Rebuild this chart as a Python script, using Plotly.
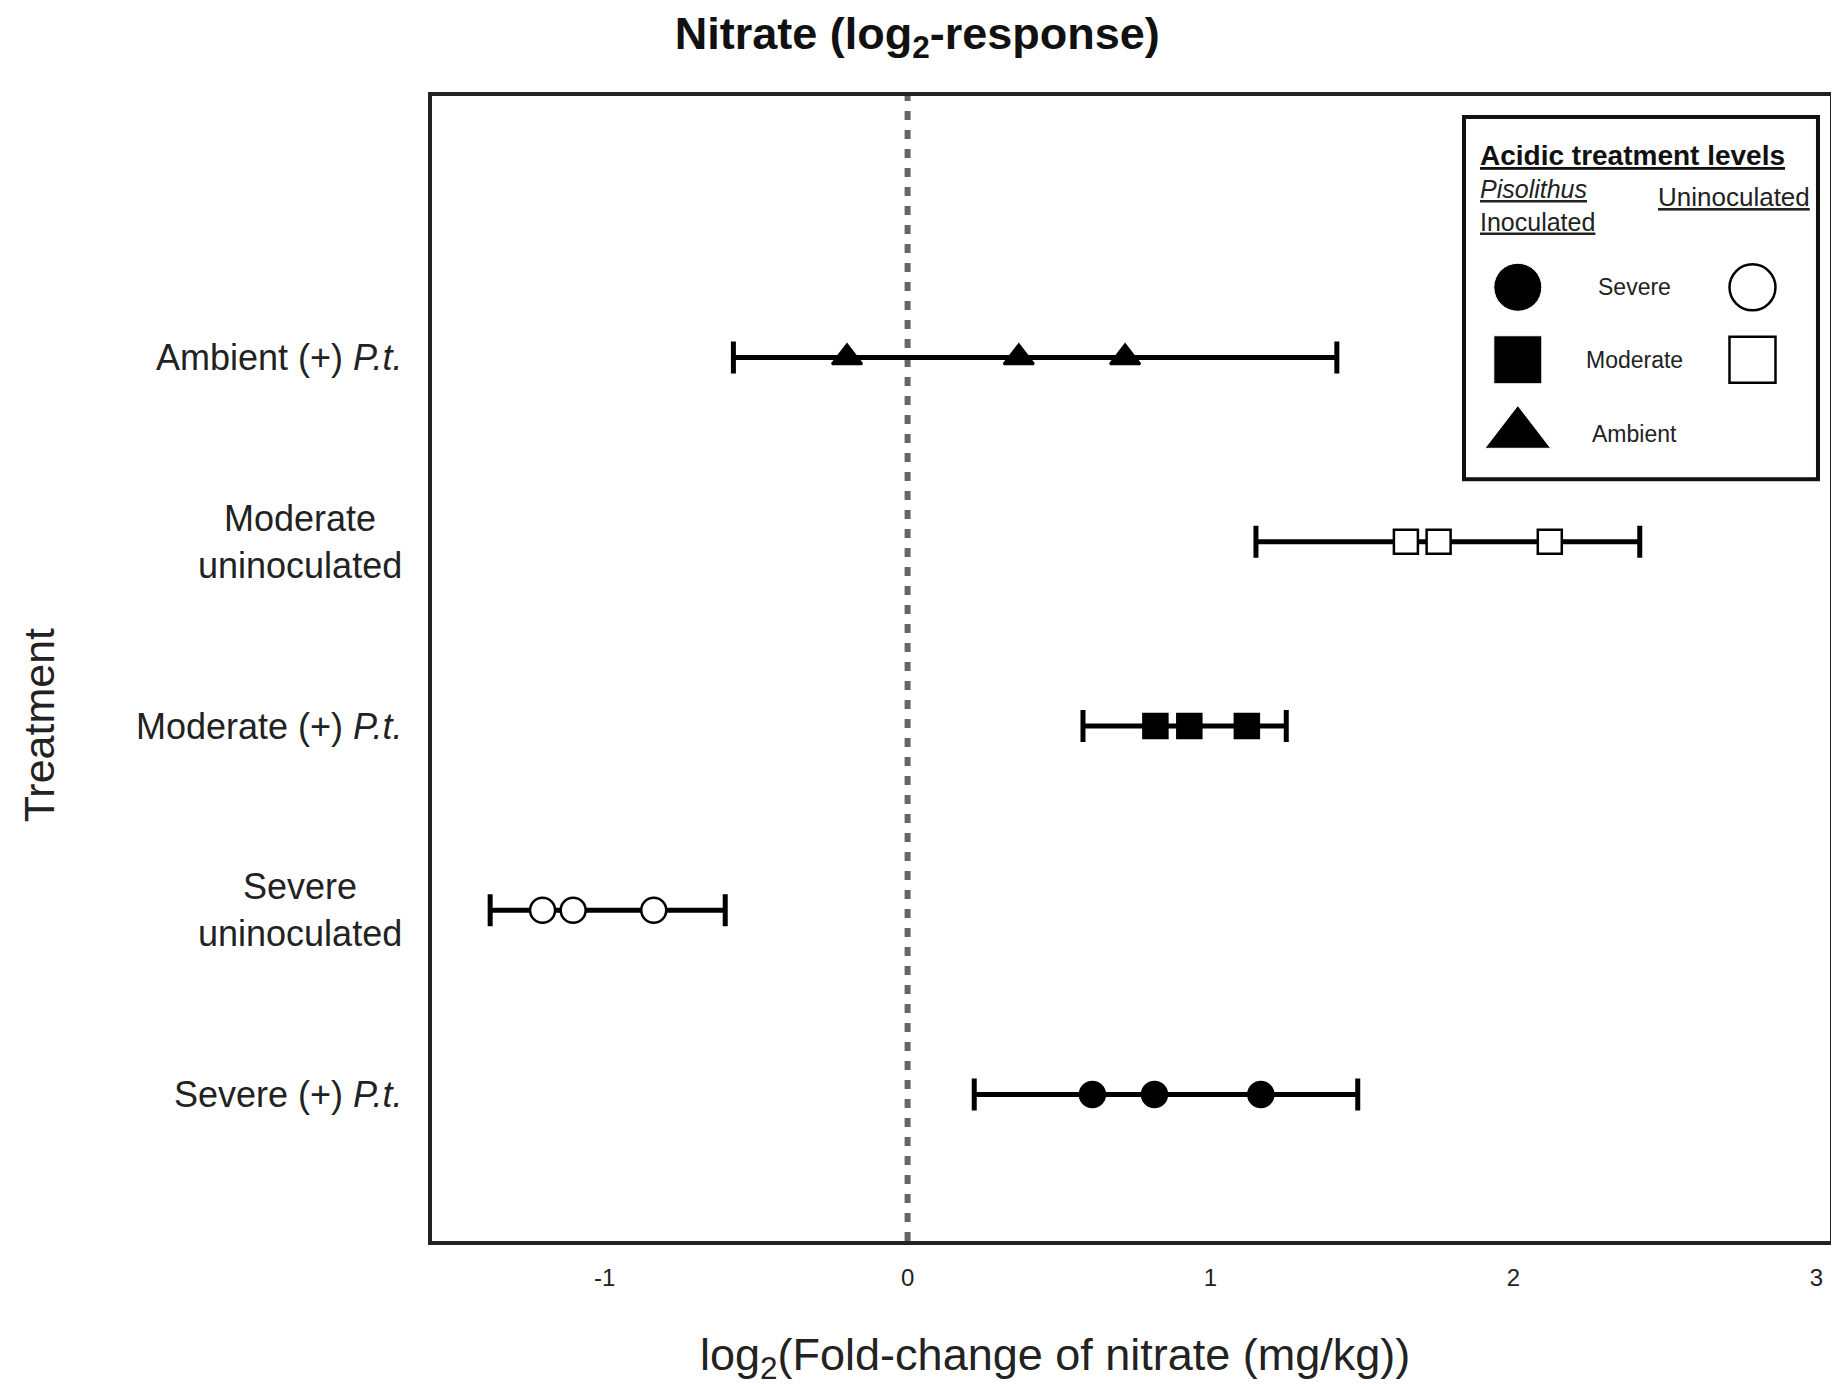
'''
nitrate log2-response forest plot
'''
import plotly.graph_objects as go

# rows from bottom to top
treatments = ['Severe (+) <i>P.t.</i>', 'Severe<br>uninoculated', 'Moderate (+) <i>P.t.</i>',
              'Moderate<br>uninoculated', 'Ambient (+) <i>P.t.</i>']
row_pos = [0, 1, 2, 3, 4]
symbols = ['circle', 'circle-open', 'square', 'square-open', 'triangle-up']
inoculated = [True, False, True, False, True]

ci_low = [0.22, -1.378, 0.579, 1.15, -0.575]
ci_high = [1.486, -0.602, 1.25, 2.417, 1.417]
rep1 = [0.61, -1.205, 0.818, 1.645, -0.20]
rep2 = [0.815, -1.104, 0.93, 1.753, 0.367]
rep3 = [1.166, -0.838, 1.12, 2.12, 0.718]

x_ticks = [-1, 0, 1, 2, 3]
x_tick_text = ['-1', '0', '1', '2', '3']

legend_levels = ['Severe', 'Moderate', 'Ambient']
legend_filled = ['circle', 'square', 'triangle-up']
legend_open = ['circle', 'square']

# page body has a margin, so the figure is a bit smaller than the window
W, H = 1831, 1377

fig = go.Figure()

#error bars with caps
for i, y in enumerate(row_pos):
    mid = (ci_low[i] + ci_high[i]) / 2
    fig.add_trace(go.Scatter(
        x=[mid], y=[y], mode='markers', marker=dict(size=1, color='rgba(0,0,0,0)'),
        error_x=dict(type='data', symmetric=False, array=[ci_high[i] - mid],
                     arrayminus=[mid - ci_low[i]], color='black', thickness=5, width=16),
        showlegend=False, hoverinfo='skip'))

#replicate points
for i, y in enumerate(row_pos):
    sym = symbols[i].replace('-open', '')
    size = {'circle': 25, 'square': 24, 'triangle-up': 26}[sym]
    fig.add_trace(go.Scatter(
        x=[rep1[i], rep2[i], rep3[i]], y=[y, y, y], mode='markers',
        marker=dict(symbol=sym, size=size, opacity=1,
                    color='black' if inoculated[i] else 'white',
                    line=dict(color='black', width=2.5)),
        showlegend=False))

#legend markers on a hidden axis laid over the legend box
leg_y = [0.53, 0.33, 0.125]
fig.add_trace(go.Scatter(
    x=[0.152] * 3, y=leg_y, mode='markers', xaxis='x2', yaxis='y2',
    marker=dict(symbol=legend_filled, size=[48, 48, 57], color='black', opacity=1),
    showlegend=False, hoverinfo='skip'))
fig.add_trace(go.Scatter(
    x=[0.815] * 2, y=leg_y[:2], mode='markers', xaxis='x2', yaxis='y2',
    marker=dict(symbol=legend_open, size=[46, 46], color='white', opacity=1,
                line=dict(color='black', width=2.5)),
    showlegend=False, hoverinfo='skip'))
for label, ly in zip(legend_levels, leg_y):
    fig.add_annotation(x=0.483, y=ly, xref='x2', yref='y2', text=label, showarrow=False,
                       font=dict(size=23, color='#222'))
fig.add_annotation(x=0.04, y=0.895, xref='x2', yref='y2', xanchor='left',
                   text='<b><u>Acidic treatment levels</u></b>', showarrow=False,
                   font=dict(size=28, color='#111'))
fig.add_annotation(x=0.04, y=0.755, xref='x2', yref='y2', xanchor='left', align='left',
                   text='<u><i>Pisolithus</i></u><br><u>Inoculated</u>', showarrow=False,
                   font=dict(size=25, color='#222'))
fig.add_annotation(x=0.763, y=0.78, xref='x2', yref='y2', xanchor='center',
                   text='<u>Uninoculated</u>', showarrow=False,
                   font=dict(size=26, color='#222'))

#legend box
fig.add_shape(type='rect', xref='paper', yref='paper', x0=0.7382, x1=0.9914, y0=0.6652, y1=0.9817,
              line=dict(color='#111', width=4), fillcolor='rgba(0,0,0,0)')

#zero line
fig.add_shape(type='line', x0=0, x1=0, y0=0, y1=1, xref='x', yref='paper',
              line=dict(color='#666', width=6, dash='9px,10px'), layer='below')

#y labels
for label, y in zip(treatments, row_pos):
    fig.add_annotation(x=-0.02, y=y, xref='paper', yref='y', xanchor='right',
                       align='center', text=label, showarrow=False,
                       font=dict(size=36, color='#222'))

fig.add_annotation(x=-0.30, y=0.45, xref='paper', yref='paper', text='Treatment',
                   textangle=-90, showarrow=False,
                   font=dict(size=43, color='#222'))
fig.add_annotation(x=0.4458, y=-0.102, xref='paper', yref='paper', yanchor='middle',
                   text='log<sub>2</sub>(Fold-change of nitrate (mg/kg))', showarrow=False,
                   font=dict(size=45, color='#222'))

fig.update_layout(
    width=W, height=H,
    margin=dict(l=424, r=5, t=88, b=144),
    paper_bgcolor='white', plot_bgcolor='white',
    font=dict(family='Liberation Sans', color='#222'),
    title=dict(text='<b>Nitrate (log<sub>2</sub>-response)</b>', x=0.4966, xref='container',
               y=1 - 25 / H, yanchor='middle', font=dict(size=45, color='#111')),
    xaxis=dict(range=[-1.57, 3.045], tickvals=x_ticks, ticktext=x_tick_text,
               showgrid=False, zeroline=False,
               showline=True, mirror=True, linecolor='#222', linewidth=4, ticks='',
               ticklabelstandoff=12,
               tickfont=dict(size=24, color='#222')),
    yaxis=dict(range=[-0.795, 5.42], showticklabels=False, showgrid=False, zeroline=False,
               showline=True, mirror=True, linecolor='#222', linewidth=4, ticks=''),
    xaxis2=dict(domain=[0.7382, 0.9914], range=[0, 1], visible=False, anchor='y2'),
    yaxis2=dict(domain=[0.6652, 0.9817], range=[0, 1], visible=False, anchor='x2'),
)

fig.write_html('out.html')
